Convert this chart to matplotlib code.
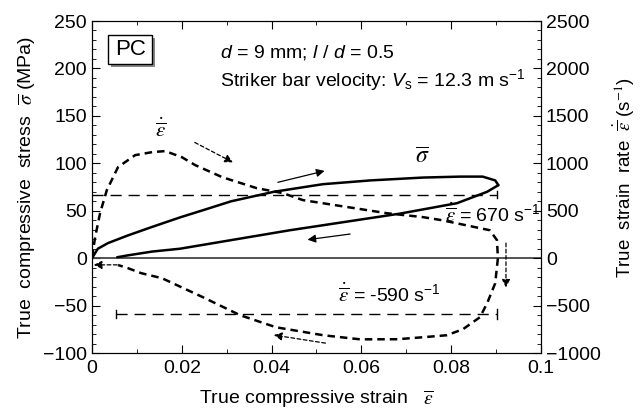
import matplotlib
matplotlib.use("Agg")
import matplotlib.pyplot as plt
from matplotlib.ticker import MultipleLocator
from matplotlib.patches import Rectangle

plt.rcParams['font.family'] = ['Liberation Sans', 'DejaVu Sans']
plt.rcParams['mathtext.fontset'] = 'custom'
plt.rcParams['mathtext.rm'] = 'Liberation Sans'
plt.rcParams['mathtext.it'] = 'Liberation Sans:italic'
plt.rcParams['mathtext.bf'] = 'Liberation Sans:bold'
plt.rcParams['mathtext.bfit'] = 'Liberation Sans:italic:bold'
plt.rcParams['mathtext.sf'] = 'Liberation Sans'
plt.rcParams['mathtext.tt'] = 'Liberation Mono'
plt.rcParams['mathtext.cal'] = 'Liberation Sans:italic'

# ---- data ----
strain_load = [0, 0.0013, 0.0036, 0.008, 0.0134, 0.0196, 0.025, 0.031, 0.0405,
               0.0514, 0.062, 0.0737, 0.082, 0.087, 0.0898, 0.0905]
stress_load = [0, 10, 16, 24, 33, 43, 51, 60, 70, 78, 82, 85, 86, 86, 82, 77]

strain_unload = [0.0905, 0.088, 0.0813, 0.0686, 0.0441, 0.0196, 0.0134, 0.008, 0.0056]
stress_unload = [77, 70, 58, 47, 29.5, 10, 7, 3, 1]

strain_rate_x = [0, 0.0007, 0.0018, 0.0033, 0.0058, 0.0096, 0.0134, 0.0163, 0.020,
                 0.023, 0.029, 0.0367, 0.0425, 0.047, 0.0657, 0.0737, 0.078, 0.0886,
                 0.0902, 0.0904, 0.0898, 0.0880, 0.0864, 0.0826, 0.079, 0.0737,
                 0.068, 0.0597, 0.0515, 0.041, 0.033, 0.0247, 0.0156, 0.011, 0.008,
                 0.0058]
strain_rate_y = [10, 220, 475, 717, 960, 1086, 1118, 1129, 1065,
                 981, 854, 738, 686, 612, 474, 433, 400, 295,
                 190, 0, -264, -475, -622, -749, -812, -833,
                 -854, -855, -812, -728, -601, -411, -211, -158, -105,
                 -72]

rate_avg_load = 670
rate_avg_unload = -590

x_ticks = [0, 0.02, 0.04, 0.06, 0.08, 0.1]
x_ticklabels = ['0', '0.02', '0.04', '0.06', '0.08', '0.1']

fig = plt.figure(figsize=(6.41, 4.12), dpi=100)
ax = fig.add_axes([0.1435, 0.143, 0.7005, 0.806])
ax2 = ax.twinx()

ax.set_xlim(0, 0.1)
ax.set_ylim(-100, 250)
ax2.set_ylim(-1000, 2500)

ax.set_xticks(x_ticks)
ax.set_xticklabels(x_ticklabels)
ax.xaxis.set_minor_locator(MultipleLocator(0.01))
ax.yaxis.set_major_locator(MultipleLocator(50))
ax.yaxis.set_minor_locator(MultipleLocator(10))
ax2.yaxis.set_major_locator(MultipleLocator(500))
ax2.yaxis.set_minor_locator(MultipleLocator(100))

ax.tick_params(axis='both', which='both', direction='in', labelsize=14)
ax.tick_params(axis='x', which='both', top=True)
ax.tick_params(axis='y', which='both', right=False)
ax.tick_params(which='major', length=6)
ax.tick_params(which='minor', length=3)
ax2.tick_params(axis='y', which='both', direction='in', labelsize=14)
ax2.tick_params(which='major', length=6)
ax2.tick_params(which='minor', length=3)
ax.tick_params(axis='x', pad=5)

# zero line
ax.axhline(0, color='#444444', lw=1.3)

# stress curve
ax.plot(strain_load, stress_load, color='black', lw=1.8, solid_capstyle='round')
ax.plot(strain_unload, stress_unload, color='black', lw=1.8, solid_capstyle='round')

# strain-rate curve
ax2.plot(strain_rate_x, strain_rate_y, color='black', lw=1.8, ls=(0, (3, 2)))

# average strain rate lines
ax2.plot([0, 0.0902], [rate_avg_load, rate_avg_load], color='black', lw=1.0,
         ls=(0, (8, 5)))
ax2.plot([0.0902, 0.0902], [rate_avg_load - 40, rate_avg_load + 40], color='black', lw=1.0)
ax2.plot([0.0054, 0.0902], [rate_avg_unload, rate_avg_unload], color='black', lw=1.0,
         ls=(0, (8, 5)))
ax2.plot([0.0054, 0.0054], [rate_avg_unload - 40, rate_avg_unload + 40], color='black', lw=1.0)
ax2.plot([0.0902, 0.0902], [rate_avg_unload - 50, rate_avg_unload + 50], color='black', lw=1.0)

# arrows
def arrow(a, x0, y0, x1, y1, dashed=False):
    a.annotate('', xy=(x1, y1), xytext=(x0, y0),
               arrowprops=dict(arrowstyle='-|>', color='black', lw=0.9,
                               ls=(0, (3, 2)) if dashed else '-',
                               mutation_scale=12, shrinkA=0, shrinkB=0))

arrow(ax2, 0.0229, 1220, 0.0314, 1010, dashed=True)   # dashed arrow top
arrow(ax, 0.0414, 80, 0.0518, 92)                     # solid arrow loading
arrow(ax, 0.0575, 25.5, 0.0480, 19.5)                 # solid arrow unloading
arrow(ax2, 0.0520, -895, 0.0405, -810, dashed=True)   # dashed arrow bottom
arrow(ax2, 0.0922, 160, 0.0922, -310, dashed=True)    # dashed vertical arrow
arrow(ax2, 0.0056, -70, 0.0004, -70, dashed=True)     # left arrow

# labels
ax.set_xlabel(r'True compressive strain   $\overline{\varepsilon}$', fontsize=14,
              math_fontfamily='stix', labelpad=8)
ax.set_ylabel(r'True  compressive  stress  $\overline{\sigma}$ (MPa)', fontsize=14,
              math_fontfamily='stix', labelpad=4)
ax2.set_ylabel(r'True  strain  rate  $\dot{\overline{\varepsilon}}$ (s$^{-1}$)',
               fontsize=13.5, math_fontfamily='stix')
ax2.yaxis.set_label_coords(1.155, 0.53)

# annotations
ax.add_patch(Rectangle((0.0043, 201.8), 0.0098, 30, fc='#888888', ec='none', zorder=2))
ax.add_patch(Rectangle((0.0036, 205), 0.0098, 30, fc='white', ec='black', lw=1.0, zorder=2.5))
ax.text(0.0085, 220, 'PC', fontsize=16, ha='center', va='center', zorder=3)

ax.text(0.0285, 217, r'$d$ = 9 mm; $l$ / $d$ = 0.5', fontsize=14, ha='left', va='center')
ax.text(0.0285, 188, r'Striker bar velocity: $V_{\mathrm{s}}$ = 12.3 m s$^{\mathrm{-1}}$',
        fontsize=14, ha='left', va='center')

ax2.text(0.0154, 1360, r'$\dot{\overline{\varepsilon}}$', fontsize=15, ha='center',
         va='center', math_fontfamily='stix')
ax.text(0.0735, 106, r'$\overline{\sigma}$', fontsize=17, ha='center', va='center',
        math_fontfamily='stix')
ax2.text(0.0787, 460, r'$\dot{\overline{\varepsilon}}$', fontsize=15, ha='left',
         va='center', math_fontfamily='stix')
ax2.text(0.0818, 460, r'= 670 s$^{\mathrm{-1}}$', fontsize=14, ha='left', va='center')
ax2.text(0.0548, -380, r'$\dot{\overline{\varepsilon}}$', fontsize=15, ha='left',
         va='center', math_fontfamily='stix')
ax2.text(0.0582, -380, r'= -590 s$^{\mathrm{-1}}$', fontsize=14, ha='left', va='center')

fig.savefig('out.png', dpi=100)
